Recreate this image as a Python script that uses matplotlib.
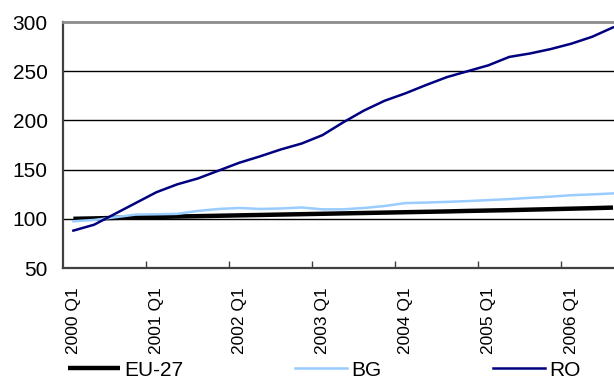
import matplotlib.pyplot as plt
import numpy as np

plt.rcParams['font.family'] = ['Liberation Sans', 'DejaVu Sans']

# quarterly index, 2000 Q1 = first point
quarters = [f"{y} Q{q}" for y in range(2000, 2007) for q in range(1, 5)][:27]

eu27 = [100.0, 100.4, 100.9, 101.4, 101.9, 102.3, 102.7, 103.1, 103.5, 103.9,
        104.3, 104.7, 105.1, 105.5, 105.9, 106.3, 106.7, 107.1, 107.5, 108.0,
        108.4, 108.8, 109.3, 109.8, 110.3, 110.8, 111.4]
bg = [97.5, 98.8, 101.5, 104.3, 104.6, 105.0, 108.0, 110.0, 111.0, 110.0,
      110.5, 111.5, 109.6, 109.6, 111.0, 113.0, 116.0, 116.5, 117.2, 118.0,
      119.0, 120.0, 121.3, 122.5, 124.0, 124.8, 125.8]
ro = [88.0, 94.0, 105.0, 116.0, 127.0, 135.0, 141.0, 149.0, 157.0, 163.5,
      170.5, 176.5, 185.0, 198.0, 210.0, 220.0, 227.5, 236.0, 244.0, 250.0,
      256.0, 264.5, 268.0, 272.5, 278.0, 285.0, 294.5]

x = np.arange(len(quarters))

fig = plt.figure(figsize=(6.14, 3.8), dpi=100)
ax = fig.add_axes([63 / 614, 1 - 268 / 380, 1 - 63 / 614, 246 / 380])

ax.plot(x, eu27, color='black', lw=3.2, label='EU-27', solid_capstyle='butt')
ax.plot(x, bg, color='#99ccff', lw=1.8, label='BG')
ax.plot(x, ro, color='#000080', lw=1.8, label='RO')

ax.set_ylim(50, 300)
ax.set_xlim(-0.5, 26.05)
ax.set_yticks([50, 100, 150, 200, 250, 300])
ax.tick_params(axis='y', length=0, pad=11, labelsize=15)

# year boundaries get the tick marks, labels sit on the Q1 categories
ax.set_xticks(np.arange(3.5, 26, 4))
ax.set_xticklabels([])
ax.set_xticks(x[::4], minor=True)
ax.set_xticklabels(quarters[::4], minor=True, rotation=90)
ax.tick_params(axis='x', which='major', direction='in', length=5, width=1, color='#404040')
ax.tick_params(axis='x', which='minor', length=0, pad=14, labelsize=12.5)

for y in [100, 150, 200, 250]:
    ax.axhline(y, color='black', lw=1, zorder=0)

ax.spines['right'].set_visible(False)
ax.spines['top'].set_color('#8c8c8c')
ax.spines['top'].set_linewidth(2)
ax.spines['left'].set_color('#404040')
ax.spines['left'].set_linewidth(1.6)
ax.spines['bottom'].set_color('#404040')
ax.spines['bottom'].set_linewidth(1.6)

fig.legend(loc='center left', bbox_to_anchor=(60 / 614, 1 - 370 / 380), ncol=3,
           frameon=False, fontsize=15, handlelength=2.5, handletextpad=0.2,
           columnspacing=5.35, borderaxespad=0)

fig.savefig('out.png', dpi=100)
